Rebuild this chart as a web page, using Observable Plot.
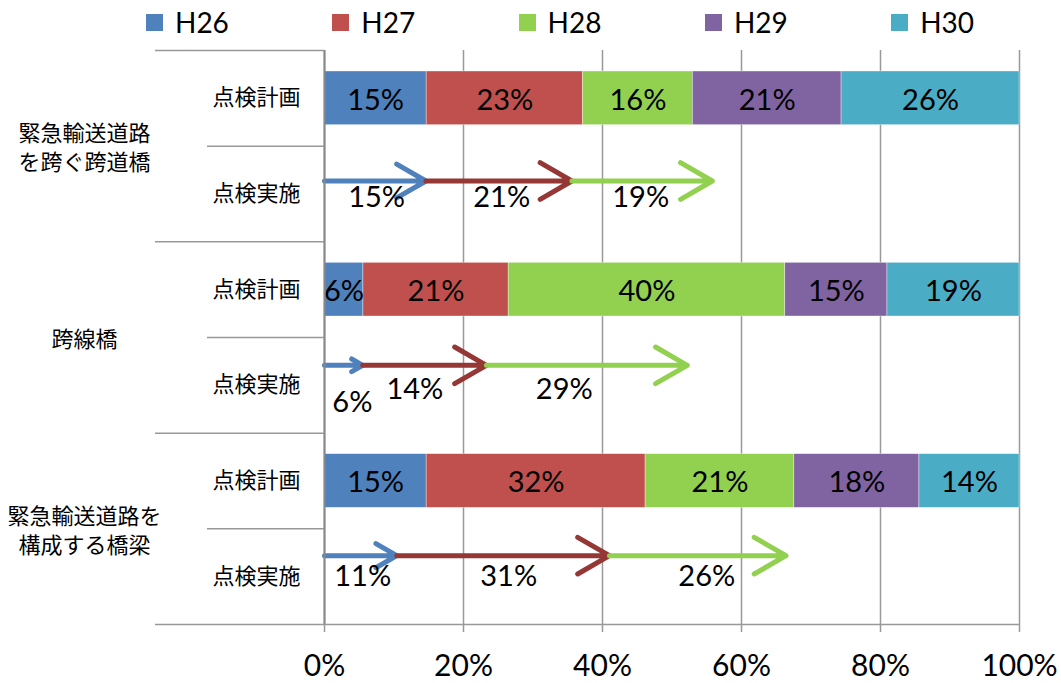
<!DOCTYPE html>
<html><head><meta charset="utf-8">
<script src="https://cdn.jsdelivr.net/npm/d3@7"></script>
<script src="https://cdn.jsdelivr.net/npm/@observablehq/plot@0.6"></script>
<style>
body{margin:0;background:#fff;font-family:Lato,"Noto Sans CJK JP",sans-serif;}
#legend{height:44px;display:flex;align-items:center;padding-left:146px;box-sizing:border-box;}
.item{width:186.3px;display:flex;align-items:center;font-size:28px;color:#000;flex:none;}
.sw{width:17px;height:17px;margin-right:12px;flex:none;}
</style></head><body>
<div id="legend"></div><div id="chart"></div>
<script>
// ---- data ----
const groups = ["緊急輸送道路\nを跨ぐ跨道橋", "跨線橋", "緊急輸送道路を\n構成する橋梁"];
const rowLabels = ["点検計画", "点検実施"];
const years = ["H26", "H27", "H28", "H29", "H30"];
const yearColors = ["#4F81BD", "#C0504D", "#92D050", "#8064A2", "#4BACC6"];
// 点検計画 shares (%), per group, per year
const planValues = [
  [14.7, 22.5, 15.8, 21.4, 25.6],
  [5.6, 20.9, 39.8, 14.7, 19.0],
  [14.7, 31.5, 21.4, 18.0, 14.4]
];
// 点検実施 shares (%) as labelled
const doneValues = [
  [15, 21, 19],
  [6, 14, 29],
  [11, 31, 26]
];
// 点検実施 arrow tips (cumulative %, as drawn)
const arrowEnds = [
  [14.6, 35.6, 55.8],
  [5.5, 23.3, 52.2],
  [10.4, 41.0, 66.4]
];
const arrowColors = ["#4F81BD", "#953735", "#92D050"];
const xTicks = [0, 20, 40, 60, 80, 100];

// ---- legend ----
const lg = document.getElementById("legend");
years.forEach((y, i) => {
  const it = document.createElement("div"); it.className = "item";
  const sw = document.createElement("span"); sw.className = "sw"; sw.style.background = yearColors[i];
  const tx = document.createElement("span"); tx.textContent = y;
  it.append(sw, tx); lg.append(it);
});

// ---- derived tables ----
const planData = planValues.flatMap((vals, g) => {
  let c = 0;
  return vals.map((v, j) => { const d = {row: 2 * g, year: years[j], x1: c, x2: c + v, label: Math.round(v) + "%"}; c += v; return d; });
});
const arrowDy = [-13, -20, -21];
const labelDy = [3.7, 4.2, -0.3];
const arrowData = arrowEnds.map((ends, g) => ends.map((e, j) => ({row: 2 * g + 1, x1: j ? ends[j - 1] : 0, x2: e, color: arrowColors[j]})));
const doneLabelData = doneValues.flatMap((vals, g) => {
  let c = 0;
  return vals.map((v) => { const d = {g, row: 2 * g + 1, x: c + v / 2, text: v + "%", small: v < 8}; c += v; return d; });
});
const rowLabelData = groups.flatMap((_, g) => rowLabels.map((r, k) => ({row: 2 * g + k, text: r})));
const groupData = groups.map((name, g) => ({name, y: 2 * g + 1}));

const marks = [
  Plot.gridX(xTicks, {stroke: "#999", strokeOpacity: 1, strokeWidth: 1.5}),
  Plot.rect(planData, {x1: "x1", x2: "x2", y1: d => d.row, y2: d => d.row + 1, insetTop: 21, insetBottom: 21, fill: "year", stroke: "#fff", strokeWidth: 0.6, strokeOpacity: 0.6}),
  Plot.text(planData, {x: d => (d.x1 + d.x2) / 2, y: d => d.row + 0.5, text: "label", fontSize: 29, dy: 2, fill: "#000"}),
  ...arrowData.map((arr, g) => Plot.arrow(arr, {x1: "x1", x2: "x2", y1: d => d.row + 0.5, y2: d => d.row + 0.5, stroke: "color", strokeWidth: 5, headLength: 11, headAngle: 60, dy: arrowDy[g], strokeLinecap: "round", strokeLinejoin: "round"})),
  ...[0, 1, 2].map(g => Plot.text(doneLabelData.filter(d => d.g === g && !d.small), {x: "x", y: d => d.row + 0.5, text: "text", fontSize: 29, fill: "#000", dy: labelDy[g]})),
  // labels too wide for their segment sit a little lower and to the right, as in the source
  Plot.text(doneLabelData.filter(d => d.small), {x: "x", y: d => d.row + 0.5, text: "text", fontSize: 29, fill: "#000", dy: 17, dx: 7}),
  Plot.ruleX([0], {stroke: "#888", strokeWidth: 2}),
  Plot.ruleY([6], {stroke: "#999", strokeWidth: 1.5}),
  Plot.axisX({anchor: "bottom", ticks: xTicks, tickSize: 8, tickPadding: 22, fontSize: 30, tickFormat: d => d + "%", label: null, stroke: "#999", strokeWidth: 1.5}),
  Plot.axisY({anchor: "left", ticks: [0, 2, 4, 6], tickSize: 169, tickFormat: () => "", label: null, stroke: "#999", strokeWidth: 1.5}),
  Plot.axisY({anchor: "left", ticks: [1, 3, 5], tickSize: 117, tickFormat: () => "", label: null, stroke: "#999", strokeWidth: 1.5}),
  Plot.text(rowLabelData, {x: 0, y: d => d.row + 0.5, text: "text", dx: -68, fontSize: 22, fill: "#000"}),
  Plot.text(groupData, {x: 0, y: "y", text: "name", dx: -240, fontSize: 22, lineHeight: 1.32, fill: "#000"})
];

const chart = Plot.plot({
  width: 1061, height: 639,
  marginLeft: 324, marginRight: 42, marginTop: 6, marginBottom: 59,
  x: {domain: [0, 100]},
  y: {domain: [0, 6], reverse: true},
  color: {domain: years, range: yearColors},
  style: {fontFamily: 'Lato, "Noto Sans CJK JP", sans-serif', fontSize: "22px", overflow: "visible", background: "#fff", color: "#000"},
  marks
});
document.getElementById("chart").append(chart);
</script>
</body></html>
